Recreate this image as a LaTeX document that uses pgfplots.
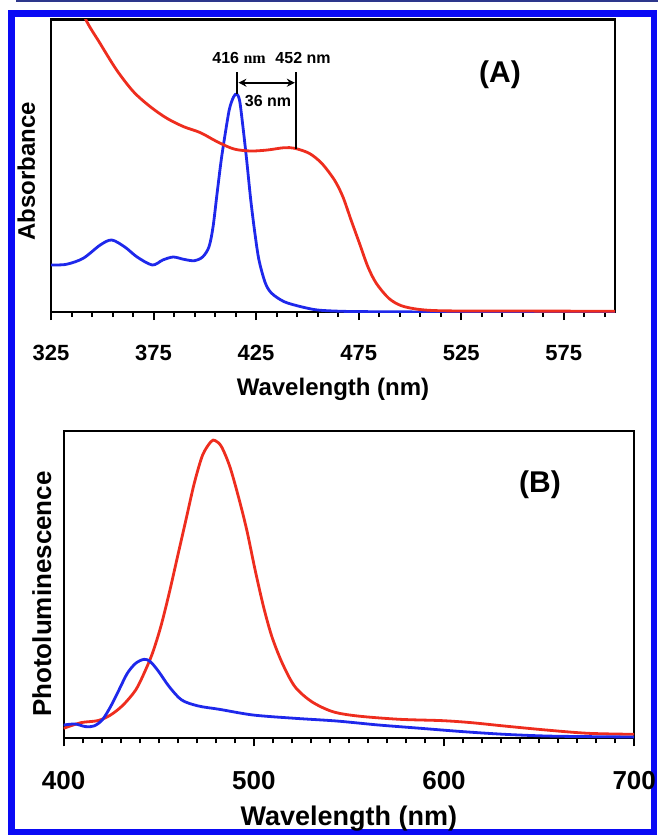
\documentclass[border=0pt]{standalone}
\usepackage{fontspec}
\setmainfont{Liberation Sans}
\newfontfamily\serifnm{Liberation Serif}
\usepackage{pgfplots}
\pgfplotsset{compat=1.18}
\usetikzlibrary{arrows.meta}
\definecolor{cred}{RGB}{238,45,30}
\definecolor{cblue}{RGB}{30,40,235}
\definecolor{bordercol}{RGB}{10,10,245}
\definecolor{navy}{RGB}{45,55,140}

\pgfplotsset{
  spec/.style={
    scale only axis, anchor=south west,
    axis line style={line width=2.2pt},
    ytick=\empty,
    xtick pos=bottom, tick align=outside,
    major tick length=8pt, minor tick length=5pt,
    tick style={line width=2pt, black},
    /pgf/number format/assume math mode=true,
    clip=true,
  },
  curve/.style={line width=2.8pt, smooth, tension=0.5},
}

\begin{document}
\begin{tikzpicture}
\path[use as bounding box] (0pt,0pt) rectangle (658pt,-835pt);
\fill[navy] (16pt,0pt) rectangle (658pt,-1.8pt);
\draw[bordercol, line width=6.5pt] (11.5pt,-13.5pt) rectangle (654pt,-832pt);

% ---------------- Panel A ----------------
\begin{axis}[spec,
  at={(51pt,-312pt)}, width=564pt, height=292.5pt,
  xmin=325, xmax=600, ymin=0, ymax=292.5,
  xtick={325,375,...,575}, minor xtick={335,345,...,595},
  xticklabel style={font=\bfseries\fontsize{22}{24}\selectfont, anchor=base, yshift=-40pt},
  xlabel={\bfseries Wavelength (nm)},
  xlabel style={font=\fontsize{24}{28}\selectfont, at={(axis description cs:0.5,-0.2838)}, anchor=base},
  ylabel={\bfseries Absorbance},
  ylabel style={font=\fontsize{24}{28}\selectfont, at={(axis description cs:-0.0284,0.482)}, anchor=base},
]
% blue spectrum
\addplot[cblue, curve] coordinates {
(325,47) (332.5,47.7) (340.7,53.7) (349,67) (354.6,72) (361,65) (367,55)
(374.4,47) (379.5,52) (384.6,55) (389.7,52.7) (394.8,51.3) (398.9,55)
(402,65) (404,85) (406,119) (408,152) (410,179) (412,203) (414,215)
(415.6,218) (417,211) (418.6,185) (420.4,152) (422.4,112) (424.4,79)
(426.4,52) (429.5,29) (432.6,18.7) (438.7,10.3) (446.9,5.3) (455,2)
(467,0.7) (483.6,0.3) (520,0) (600,0)
};
% red spectrum
\addplot[cred, curve] coordinates {
(337,325) (341.7,293.7) (348.9,268.7) (357,242) (365.2,220.3) (373.4,205.3)
(381.5,193.7) (389.7,185.3) (397.9,179.3) (406,170.3) (414.2,163)
(422.4,161) (430.5,162) (438.7,164.3) (443.8,163.7) (450.9,158.7)
(457,148.7) (463.2,132) (467.3,115.3) (471.3,92) (475.4,68.7) (479.5,45.3)
(483.6,28.7) (489.7,13.7) (495.8,6.3) (504,2.7) (514.2,1.3) (534.6,1)
(600,0.8)
};
\draw[line width=2pt] (axis cs:415.8,218) -- (axis cs:415.8,240);
\draw[line width=2pt] (axis cs:444.5,163.5) -- (axis cs:444.5,240);
\draw[line width=2pt, {Stealth[length=8pt,width=8pt]}-{Stealth[length=8pt,width=8pt]}]
  (axis cs:416.4,229.3) -- (axis cs:443.9,229.3);
\node[font=\bfseries\fontsize{16}{18}\selectfont] at (axis cs:416.7,254) {416 {\serifnm\bfseries nm}};
\node[font=\bfseries\fontsize{16}{18}\selectfont] at (axis cs:447.9,254) {452 nm};
\node[font=\bfseries\fontsize{16}{18}\selectfont] at (axis cs:430.8,211) {36 nm};
\node[font=\bfseries\fontsize{30}{32}\selectfont] at (axis cs:543.9,237) {(A)};
\end{axis}

% ---------------- Panel B ----------------
\begin{axis}[spec,
  at={(63.6pt,-738.3pt)}, width=570.6pt, height=307.6pt,
  xmin=400, xmax=700, ymin=0, ymax=307.6,
  xtick={400,500,600,700}, minor xtick={410,420,...,690},
  xticklabel style={font=\bfseries\fontsize{26}{28}\selectfont, anchor=base, yshift=-43pt},
  xlabel={\bfseries Wavelength (nm)},
  xlabel style={font=\fontsize{27}{30}\selectfont, at={(axis description cs:0.5,-0.2819)}, anchor=base},
  ylabel={\bfseries Photoluminescence},
  ylabel style={font=\fontsize{26}{28}\selectfont, at={(axis description cs:-0.022,0.469)}, anchor=base},
]
% red emission
\addplot[cred, curve] coordinates {
(400,10) (409.3,15.7) (418,17.7) (424.7,23.3) (431.3,33.3) (437.9,48.3)
(442.3,65) (446.7,85) (451.1,111.7) (455.5,145) (459.9,181.7) (464.3,218.3)
(468.7,255) (473.1,283.3) (477.5,296.7) (479.7,297.7) (483,291.7)
(487.4,271.7) (491.9,241.7) (496.3,208.3) (500.7,168.3) (505.1,131.7)
(509.5,101.7) (515,75) (521.6,51.7) (530.4,36.7) (541.4,26.7) (554.6,22.3)
(576.7,19) (598.7,17.7) (614.1,15.7) (631.7,12.3) (653.7,8.3) (675.8,5) (700,4)
};
% blue emission
\addplot[cblue, curve] coordinates {
(400,13.3) (406,14.3) (411.5,11.7) (415.9,12.3) (420.3,18.3) (424.7,31.7)
(429.1,48.3) (433.5,65) (437.9,75) (442.3,79) (445.6,76.7) (450,66.7)
(455.5,51.7) (462.1,38.3) (470.9,32.3) (481.9,29) (499.6,23.3) (521.6,20)
(543.6,17.3) (565.6,13.3) (587.7,10) (609.7,6.7) (631.7,4) (653.7,2.3)
(675.8,1.7) (700,1.3)
};
\node[font=\bfseries\fontsize{30}{32}\selectfont] at (axis cs:650.5,253.3) {(B)};
\end{axis}
\end{tikzpicture}
\end{document}
